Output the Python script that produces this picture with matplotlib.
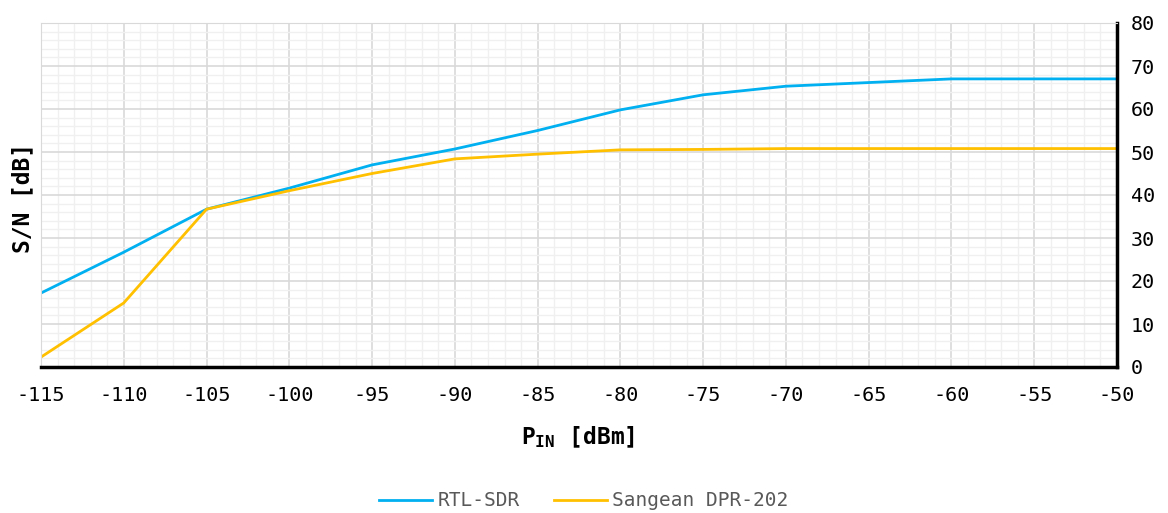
import numpy as np
import matplotlib.pyplot as plt
from matplotlib.ticker import MultipleLocator

# dane
p_in = [-115, -110, -105, -100, -95, -90, -85, -80, -75, -70, -60, -50]
rtl_sdr = [17.2, 26.7, 36.7, 41.6, 47.0, 50.7, 55.0, 59.8, 63.3, 65.3, 67.0, 67.0]
sangean = [2.3, 14.9, 36.7, 41.0, 45.0, 48.4, 49.5, 50.5, 50.6, 50.8, 50.8, 50.8]

plt.rcParams['font.family'] = ['DejaVu Sans Mono']
plt.rcParams['axes.unicode_minus'] = False
plt.rcParams['mathtext.fontset'] = 'custom'
plt.rcParams['mathtext.bf'] = 'DejaVu Sans Mono:bold'
plt.rcParams['mathtext.rm'] = 'DejaVu Sans Mono'

fig = plt.figure(figsize=(11.68, 5.13), dpi=100)
ax = fig.add_axes([41 / 1168, 1 - 367 / 513, (1117 - 41) / 1168, (367 - 23) / 513])

ax.plot(p_in, rtl_sdr, color='#00B0F0', lw=2, label='RTL-SDR')
ax.plot(p_in, sangean, color='#FFC000', lw=2, label='Sangean DPR-202')

ax.set_xlim(-115, -50)
ax.set_ylim(0, 80)
ax.xaxis.set_major_locator(MultipleLocator(5))
ax.xaxis.set_minor_locator(MultipleLocator(1))
ax.yaxis.set_major_locator(MultipleLocator(10))
ax.yaxis.set_minor_locator(MultipleLocator(2))
ax.grid(which='major', color='#d9d9d9', lw=1.2)
ax.grid(which='minor', color='#f0f0f0', lw=1)
ax.set_axisbelow(True)

ax.yaxis.tick_right()
ax.tick_params(which='both', length=0, labelsize=14.5, colors='black')
ax.tick_params(axis='x', pad=14)
ax.tick_params(axis='y', pad=10)

for s in ['top', 'left']:
    ax.spines[s].set_color('#d9d9d9')
for s in ['bottom', 'right']:
    ax.spines[s].set_color('black')
    ax.spines[s].set_linewidth(2.5)

fig.text(578 / 1168, 1 - 437 / 513, r'$\mathbf{P_{IN}}$ [dBm]', fontsize=16.5,
         fontweight='bold', ha='center', va='center')
fig.text(23 / 1168, 1 - 198 / 513, 'S/N [dB]', rotation=90, fontsize=16.5,
         fontweight='bold', ha='center', va='center')

fig.legend(loc='center', ncol=2, frameon=False, fontsize=14,
           labelcolor='#595959', bbox_to_anchor=(0.5, 1 - 501 / 513), handlelength=2.7,
           columnspacing=1.75, handletextpad=0.3)

plt.savefig('out.png', dpi=100)
